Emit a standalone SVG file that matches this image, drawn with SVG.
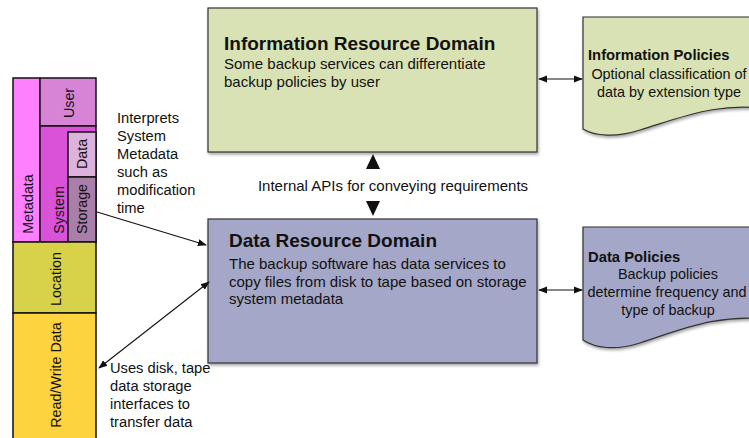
<svg xmlns="http://www.w3.org/2000/svg" width="749" height="438" viewBox="0 0 749 438">
<defs>
<style>
text{font-family:"Liberation Sans",Arial,sans-serif;fill:#111}
.t{font-size:19px;font-weight:bold}
.s{font-size:15px}
.l{font-size:14.7px}
.pt{font-size:14.8px;font-weight:bold}
.ps{font-size:14.4px;text-anchor:middle}
.v{font-size:14.3px;text-anchor:middle}
.dom{stroke:#333;stroke-width:1.2}
.stk{stroke:#111;stroke-width:1.5}
.ln{stroke:#111;stroke-width:1.1;fill:none}
</style>
<filter id="sh" x="-10%" y="-10%" width="130%" height="130%">
<feDropShadow dx="1" dy="2" stdDeviation="1.5" flood-color="#000" flood-opacity="0.35"/>
</filter>
<marker id="ah" viewBox="0 0 10 10" refX="9" refY="5" markerWidth="9" markerHeight="9" markerUnits="userSpaceOnUse" orient="auto-start-reverse">
<path d="M0,1 L10,5 L0,9 Z" fill="#111"/>
</marker>
</defs>

<g id="stack">
<rect class="stk" x="13" y="78" width="27" height="164" fill="#FF80FF"/>
<rect class="stk" x="40" y="78" width="56" height="48" fill="#D884D6"/>
<rect class="stk" x="40" y="126" width="56" height="116" fill="#DA52D8"/>
<rect class="stk" x="68" y="132" width="28" height="45" fill="#DDB2DC"/>
<rect class="stk" x="68" y="177" width="28" height="65" fill="#A97EA8"/>
<rect class="stk" x="13" y="242" width="83" height="71" fill="#D7D24A"/>
<rect class="stk" x="13" y="313" width="83" height="130" fill="#FDD33F"/>
<text class="v" transform="translate(33,204) rotate(-90)">Metadata</text>
<text class="v" transform="translate(74,103) rotate(-90)">User</text>
<text class="v" transform="translate(64,210) rotate(-90)">System</text>
<text class="v" transform="translate(87,154) rotate(-90)">Data</text>
<text class="v" transform="translate(87,209) rotate(-90)">Storage</text>
<text class="v" transform="translate(61,279) rotate(-90)">Location</text>
<text class="v" transform="translate(61,375) rotate(-90)">Read/Write Data</text>
</g>

<g id="info-domain">
<rect class="dom" x="208" y="8" width="329" height="144" fill="#D9E2B4" filter="url(#sh)"/>
<text class="t" x="224" y="50">Information Resource Domain</text>
<text class="s" x="224" y="69">Some backup services can differentiate</text>
<text class="s" x="224" y="87">backup policies by user</text>
</g>

<g id="data-domain">
<rect class="dom" x="208" y="219" width="329" height="144" fill="#A5A7C8" filter="url(#sh)"/>
<text class="t" x="229" y="247">Data Resource Domain</text>
<text class="s" x="229" y="269">The backup software has data services to</text>
<text class="s" x="229" y="287">copy files from disk to tape based on storage</text>
<text class="s" x="229" y="304">system metadata</text>
</g>

<g id="info-policies">
<path class="dom" d="M583,17 L775,17 L775,110 C720,100 680,118 640,130 C615,138 595,136 583,129 Z" fill="#D9E2B4" filter="url(#sh)"/>
<text class="pt" x="588" y="60">Information Policies</text>
<text class="ps" x="669" y="79">Optional classification of</text>
<text class="ps" x="669" y="97">data by extension type</text>
</g>

<g id="data-policies">
<path class="dom" d="M583,227 L775,227 L775,320 C720,312 680,330 640,343 C615,351 595,348 583,340 Z" fill="#A5A7C8" filter="url(#sh)"/>
<text class="pt" x="588" y="262">Data Policies</text>
<text class="ps" x="668" y="279">Backup policies</text>
<text class="ps" x="667" y="297">determine frequency and</text>
<text class="ps" x="668" y="315">type of backup</text>
</g>

<g id="labels">
<text class="l" x="117" y="123">Interprets</text>
<text class="l" x="117" y="141">System</text>
<text class="l" x="117" y="159">Metadata</text>
<text class="l" x="117" y="177">such as</text>
<text class="l" x="117" y="195">modification</text>
<text class="l" x="117" y="213">time</text>
<text class="l" x="110" y="373">Uses disk, tape</text>
<text class="l" x="110" y="391">data storage</text>
<text class="l" x="110" y="409">interfaces to</text>
<text class="l" x="110" y="427">transfer data</text>
<text x="393" y="191" style="font-size:15px;text-anchor:middle">Internal APIs for conveying requirements</text>
</g>

<g id="connectors">
<path class="ln" d="M97,212 L206,245" marker-end="url(#ah)"/>
<path class="ln" d="M99,368 L209,282" marker-start="url(#ah)" marker-end="url(#ah)"/>
<path class="ln" d="M539,79 L582,79" marker-start="url(#ah)" marker-end="url(#ah)"/>
<path class="ln" d="M539,290 L582,290" marker-start="url(#ah)" marker-end="url(#ah)"/>
<path d="M373,154 L380,169 L366,169 Z" fill="#111"/>
<path d="M366,201 L380,201 L373,216 Z" fill="#111"/>
</g>
</svg>
